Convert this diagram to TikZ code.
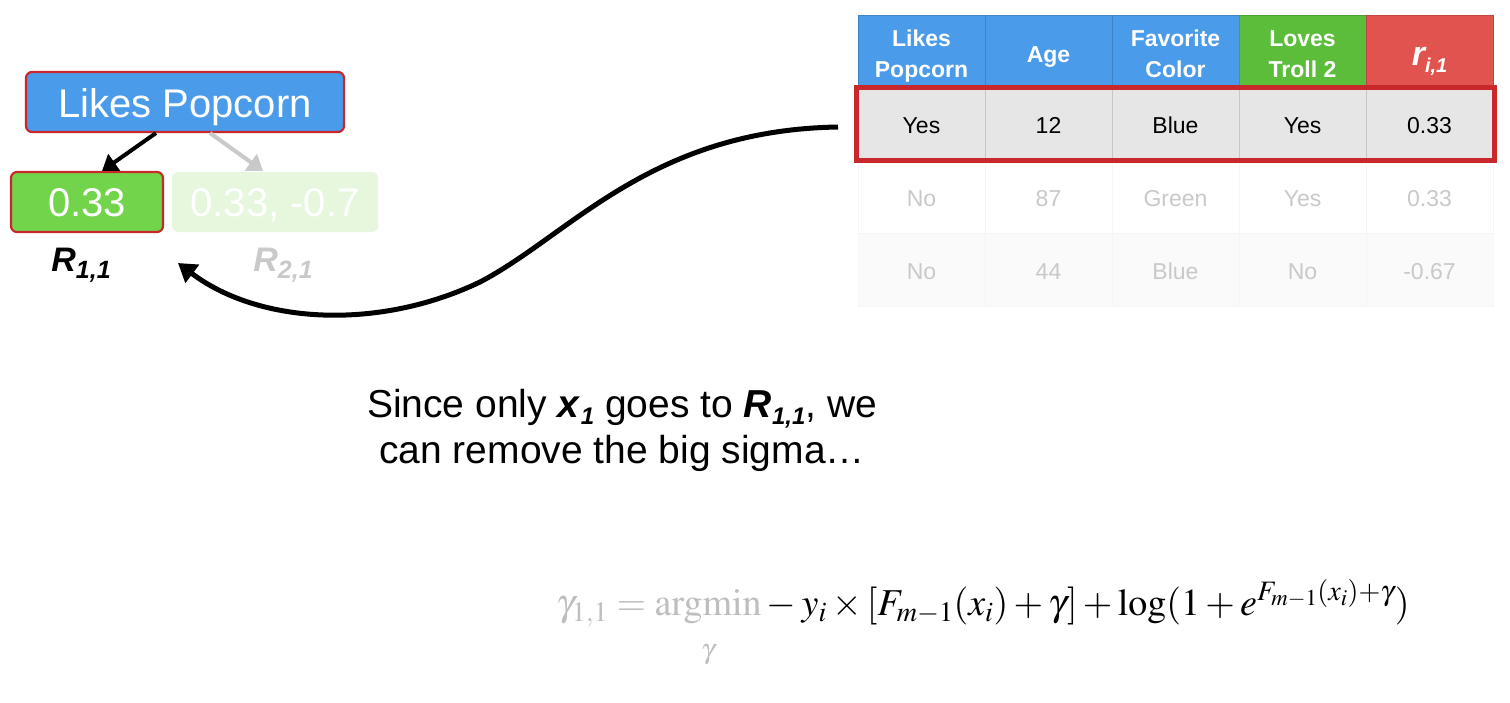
\documentclass[tikz,border=0pt]{standalone}
\usepackage{amsmath}
\usepackage{mathptmx}
\usepackage[no-math]{fontspec}
\setmainfont{Liberation Sans}
\usetikzlibrary{arrows.meta,calc}
\definecolor{hblue}{HTML}{4A9BEA}
\definecolor{hgreen}{HTML}{5BBD3A}
\definecolor{hred}{HTML}{E0534E}
\definecolor{boxgreen}{HTML}{72D44A}
\definecolor{fadegreen}{HTML}{E6F7DE}
\definecolor{bordred}{HTML}{C8282B}
\definecolor{fadetxt}{HTML}{C9C9C9}
\definecolor{rowgray}{HTML}{E6E6E6}
\definecolor{fadefml}{HTML}{BEBEBE}
% text placed with its baseline a fixed distance below the cell centre
\newcommand{\bl}[2]{\raisebox{-#1pt}[0pt][0pt]{#2}}
\newcommand{\twoline}[2]{\raisebox{-25.5pt}[0pt][0pt]{\begin{tabular}[b]{@{}c@{}}#1\\#2\end{tabular}}}
\tikzset{
  hcell/.style={minimum width=127pt, minimum height=73pt, inner sep=0pt, text=white, align=center, draw=#1!85!black, fill=#1, line width=0.8pt, font=\fontsize{23}{31}\selectfont\bfseries},
  dcell/.style={minimum width=127pt, minimum height=72pt, inner sep=0pt, draw=gray!45, fill=rowgray, line width=0.8pt, font=\fontsize{23}{28}\selectfont},
  fcell/.style={minimum width=127pt, minimum height=73pt, inner sep=0pt, draw=gray!8, fill=#1, line width=0.6pt, text=fadetxt, font=\fontsize{23}{28}\selectfont},
  treebox/.style={rounded corners=6pt, minimum height=60pt, inner sep=0pt, text=white, font=\fontsize{40}{42}\selectfont},
  treearrow/.style={line width=4pt, -{Triangle[length=15pt,width=20pt]}},
  bigarrow/.style={line width=5pt, -{Triangle[length=18pt,width=22pt]}},
  rlabel/.style={font=\fontsize{34}{34}\selectfont\bfseries\itshape},
}
\begin{document}
\begin{tikzpicture}[x=1pt,y=-1pt]
\useasboundingbox[fill=white] (0,0) rectangle (1510,702);

% ---------- tree ----------
\node[treebox, fill=hblue, draw=bordred, line width=2.2pt, minimum width=318pt] (lp) at (185,102) {\bl{15}{Likes Popcorn}};
\node[treebox, fill=boxgreen, draw=bordred, line width=2.2pt, minimum width=152pt] (leafa) at (87,202) {\bl{14}{0.33}};
\node[treebox, fill=fadegreen, minimum width=206pt] (leafb) at (275,202) {\bl{14}{0.33, -0.7}};
\node[rlabel] (ra) at (81,265) {R\raisebox{-0.2em}{\fontsize{25}{25}\selectfont 1,1}};
\node[rlabel, text=fadetxt] (rb) at (283,265) {R\raisebox{-0.2em}{\fontsize{25}{25}\selectfont 2,1}};

\coordinate (a1s) at (156,133);
\coordinate (a1e) at (102,171);
\coordinate (a2s) at (210,133);
\coordinate (a2e) at (263,171);
\draw[treearrow, black] (a1s) -- (a1e);
\draw[treearrow, fadetxt] (a2s) -- (a2e);

% ---------- table ----------
\node[hcell=hblue] (h1) at (921.5,51.5) {\twoline{Likes}{Popcorn}};
\node[hcell=hblue] (h2) at (1048.5,51.5) {\bl{10.5}{Age}};
\node[hcell=hblue] (h3) at (1175.5,51.5) {\twoline{Favorite}{Color}};
\node[hcell=hgreen] (h4) at (1302.5,51.5) {\twoline{Loves}{Troll 2}};
\node[hcell=hred] (h5) at (1429.5,51.5) {\bl{14}{\fontsize{34}{34}\selectfont\bfseries\itshape r\raisebox{-0.22em}{\fontsize{20}{20}\selectfont i,1}}};

\node[dcell] (d11) at (921.5,124) {\bl{9}{Yes}};
\node[dcell] (d12) at (1048.5,124) {\bl{9}{12}};
\node[dcell] (d13) at (1175.5,124) {\bl{9}{Blue}};
\node[dcell] (d14) at (1302.5,124) {\bl{9}{Yes}};
\node[dcell] (d15) at (1429.5,124) {\bl{9}{0.33}};

\node[fcell=white] (d21) at (921.5,197) {\bl{9}{No}};
\node[fcell=white] (d22) at (1048.5,197) {\bl{9}{87}};
\node[fcell=white] (d23) at (1175.5,197) {\bl{9}{Green}};
\node[fcell=white] (d24) at (1302.5,197) {\bl{9}{Yes}};
\node[fcell=white] (d25) at (1429.5,197) {\bl{9}{0.33}};

\node[fcell=gray!4] (d31) at (921.5,270) {\bl{9}{No}};
\node[fcell=gray!4] (d32) at (1048.5,270) {\bl{9}{44}};
\node[fcell=gray!4] (d33) at (1175.5,270) {\bl{9}{Blue}};
\node[fcell=gray!4] (d34) at (1302.5,270) {\bl{9}{No}};
\node[fcell=gray!4] (d35) at (1429.5,270) {\bl{9}{-0.67}};

\draw[bordred, line width=4.5pt] ($(d11.north west)+(-1,0)$) rectangle ($(d15.south east)+(1,0)$);

% ---------- big arrow ----------
\coordinate (cs) at (838,127);
\coordinate (ce) at (178,263);
\draw[bigarrow] (cs) .. controls (650,130) and (570,235) .. (480,282) .. controls (380,330) and (260,325) .. (ce);

% ---------- text ----------
\node[align=center, font=\fontsize{39}{46}\selectfont] (txt) at (622,430)
  {Since only \textbf{\textit{x}\raisebox{-0.2em}{\fontsize{24}{24}\selectfont\bfseries\itshape 1}} goes to \textbf{\textit{R}\raisebox{-0.2em}{\fontsize{24}{24}\selectfont\bfseries\itshape 1,1}}, we\\can remove the big sigma\ldots};

% ---------- formula ----------
\node[font=\fontsize{38}{44}\selectfont, anchor=west, inner sep=0pt] (fml) at (556,624)
  {$\displaystyle \textcolor{fadefml}{\gamma_{1,1} = \operatorname*{argmin}_{\raisebox{-12pt}{$\scriptstyle\gamma$}}} - y_i \times [F_{m-1}(x_i)+\gamma] + \log(1+e^{F_{m-1}(x_i)+\gamma})$};
\end{tikzpicture}
\end{document}
